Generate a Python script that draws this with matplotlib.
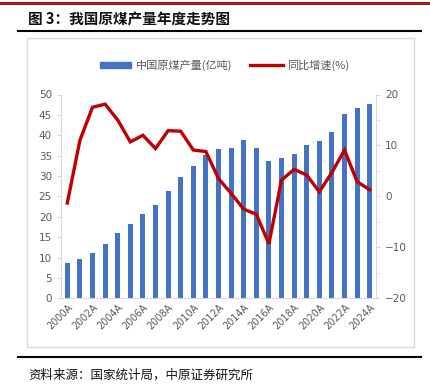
import matplotlib
matplotlib.use("Agg")
import matplotlib.pyplot as plt
from matplotlib.lines import Line2D
from matplotlib.patches import Rectangle
import numpy as np

plt.rcParams['font.family'] = ['Noto Sans CJK SC', 'DejaVu Sans']

years = [f"{y}A" for y in range(2000, 2025)]
production = [8.76, 9.66, 11.1, 13.3, 16.0, 18.3, 20.7, 22.9, 26.3, 29.7, 32.4, 35.2,
              36.6, 36.85, 38.8, 36.9, 33.7, 34.5, 35.5, 37.5, 38.5, 40.8, 45.1, 46.7, 47.7]
growth = [-1.3, 11.0, 17.5, 18.1, 15.0, 10.7, 12.0, 9.4, 12.9, 12.8, 9.1, 8.8,
          3.5, 0.6, -2.5, -3.5, -9.3, 3.2, 5.3, 4.2, 0.9, 4.7, 9.1, 2.9, 1.3]
left_ticks = list(range(0, 51, 5))
right_ticks = [-20, -10, 0, 10, 20]

fig = plt.figure(figsize=(4.3, 3.92), dpi=100)
W, H = 430, 392

def fx(x): return x / W
def fy(y): return 1 - y / H

# decorations
fig.add_artist(Line2D([0, 1], [fy(3), fy(3)], color='#a5191e', lw=2.2))
fig.text(fx(28), fy(19), "图 3：我国原煤产量年度走势图", fontsize=10.5, fontweight='bold',
         va='center', ha='left', color='#111111')
fig.add_artist(Line2D([fx(18), fx(421)], [fy(31), fy(31)], color='black', lw=1.5))
fig.add_artist(Rectangle((fx(27), fy(347)), fx(414) - fx(27), fy(38) - fy(347),
                         fill=False, edgecolor='#d9d9d9', lw=1.0))
fig.add_artist(Line2D([fx(18), fx(421)], [fy(357), fy(357)], color='black', lw=1.5))
fig.text(fx(28), fy(375), "资料来源：国家统计局，中原证券研究所", fontsize=9,
         va='center', ha='left', color='#111111')

ax = fig.add_axes([fx(61), fy(298.3), fx(376) - fx(61), fy(94.5) - fy(298.3)])
x = np.arange(len(years))
ax.bar(x, production, width=0.4, color='#4472C4', zorder=2)
ax.set_xlim(-0.5, len(years) - 0.5)
ax.set_ylim(0, 50)
ax.set_yticks(left_ticks)
ax.set_xticks(x[::2])
ax.set_xticklabels(years[::2], rotation=45, ha='right', rotation_mode='anchor',
                   fontsize=7, color='#595959', family=['DejaVu Sans'])
ax.tick_params(axis='y', labelsize=7.5, colors='#595959', length=3, color='#d9d9d9')
ax.tick_params(axis='x', length=0, pad=3)
for lab in ax.get_yticklabels():
    lab.set_family(['DejaVu Sans'])
for s in ['top', 'right']:
    ax.spines[s].set_visible(False)
for s in ['left', 'bottom']:
    ax.spines[s].set_color('#d9d9d9')

ax2 = ax.twinx()
ax2.plot(x, growth, color='#C00000', lw=2.4, zorder=3, solid_joinstyle='miter')
ax2.set_ylim(-20, 20)
ax2.set_yticks(right_ticks)
ax2.set_yticks([-15, -5, 5, 15], minor=True)
ax2.tick_params(axis='y', which='both', labelsize=7.5, colors='#595959', length=3, color='#d9d9d9')
for lab in ax2.get_yticklabels():
    lab.set_family(['DejaVu Sans'])
for s in ['top', 'left', 'bottom']:
    ax2.spines[s].set_visible(False)
ax2.spines['right'].set_color('#d9d9d9')

# legend
fig.add_artist(Rectangle((fx(100), fy(67.5)), fx(31), fy(62.5) - fy(67.5), color='#4472C4'))
fig.text(fx(136), fy(65), "中国原煤产量(亿吨)", fontsize=8, va='center', ha='left', color='#595959')
fig.add_artist(Line2D([fx(250), fx(283)], [fy(65), fy(65)], color='#C00000', lw=2.4))
fig.text(fx(287), fy(65), "同比增速(%)", fontsize=8, va='center', ha='left', color='#595959')

fig.savefig("out.png", dpi=100)
